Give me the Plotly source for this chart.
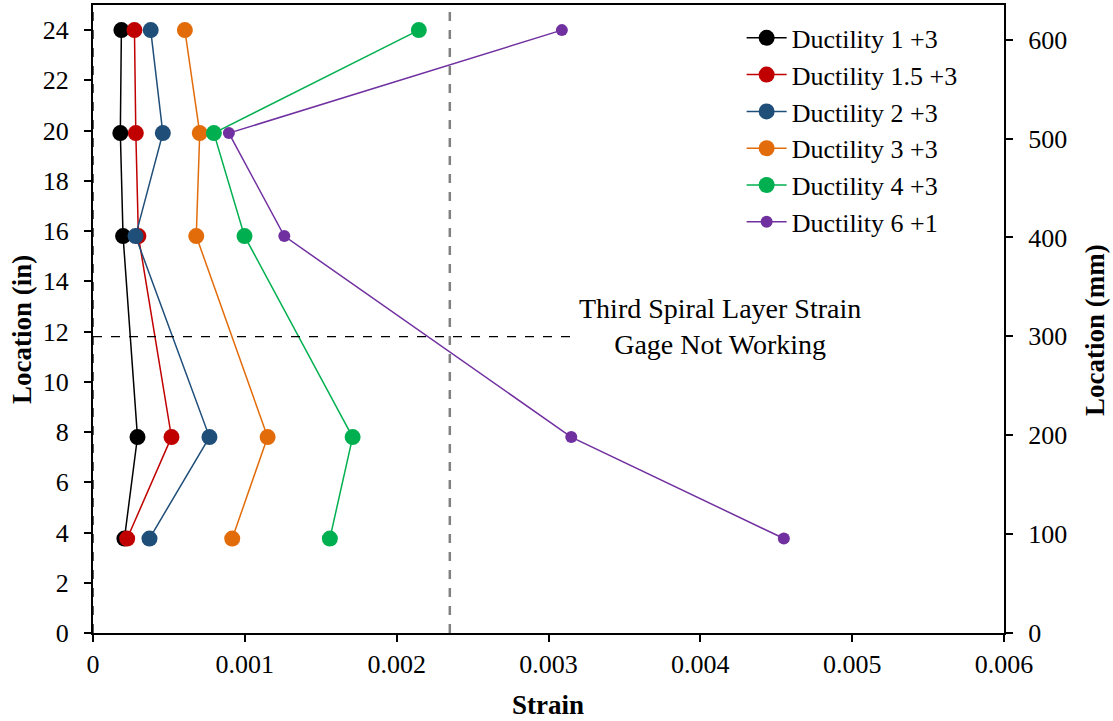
import plotly.graph_objects as go

location_in = [24.0, 19.9, 15.8, 7.8, 3.76]

series_names = ["Ductility 1 +3", "Ductility 1.5 +3", "Ductility 2 +3",
                "Ductility 3 +3", "Ductility 4 +3", "Ductility 6 +1"]
strain_d1 = [0.000187, 0.000180, 0.000198, 0.000293, 0.000207]
strain_d15 = [0.000273, 0.000282, 0.000299, 0.000517, 0.000225]
strain_d2 = [0.000380, 0.000460, 0.000280, 0.000767, 0.000372]
strain_d3 = [0.000605, 0.000703, 0.000680, 0.001150, 0.000917]
strain_d4 = [0.002146, 0.000796, 0.000998, 0.001710, 0.001560]
strain_d6 = [0.003088, 0.000895, 0.001260, 0.003150, 0.004550]
series_values = [strain_d1, strain_d15, strain_d2, strain_d3, strain_d4, strain_d6]
series_colors = ["#000000", "#C00000", "#1F4E79", "#E36C0A", "#00B050", "#7030A0"]
marker_sizes = [16, 16, 16, 16, 16, 12]

yield_strain = 0.00235
gage_line_y = 11.8
gage_line_x_end = 0.00315

x_ticks = [0, 0.001, 0.002, 0.003, 0.004, 0.005, 0.006]
x_tick_text = ["0", "0.001", "0.002", "0.003", "0.004", "0.005", "0.006"]

FONT = "Liberation Serif, Times New Roman, serif"

fig = go.Figure()

for name, vals, col, ms in zip(series_names, series_values, series_colors, marker_sizes):
    fig.add_trace(go.Scatter(
        x=vals, y=location_in, name=name, mode="lines+markers",
        line=dict(color=col, width=1.5),
        marker=dict(color=col, size=ms),
    ))

# invisible trace for right axis
fig.add_trace(go.Scatter(x=[0, 0], y=[0, 635], yaxis="y2", mode="markers",
                         marker=dict(opacity=0), showlegend=False, hoverinfo="skip"))

# dashed lines
fig.add_shape(type="line", x0=yield_strain, x1=yield_strain, y0=0, y1=25,
              xref="x", yref="y", line=dict(color="#808080", width=2.5, dash="dash"))
fig.add_shape(type="line", x0=0, x1=gage_line_x_end, y0=gage_line_y, y1=gage_line_y,
              xref="x", yref="y", line=dict(color="#000000", width=1.3, dash="dash"))
fig.add_shape(type="line", x0=0, x1=0, y0=0, y1=25,
              xref="x", yref="y", line=dict(color="#000000", width=1.3, dash="dash"))

fig.add_annotation(x=0.00413, y=12.2, xref="x", yref="y",
                   text="Third Spiral Layer Strain<br>Gage Not Working",
                   showarrow=False, font=dict(family=FONT, size=28, color="#000000"),
                   align="center", xanchor="center", yanchor="middle")

L, R, T, B = 93, 109, 5, 88
W, H = 1113, 721
pw, ph = W - L - R, H - T - B


def px_to_paper(xp, yp):
    return (xp - L) / pw, (H - B - yp) / ph


titles = [("<b>Location (in)</b>", 22, 330, -90),
          ("<b>Strain</b>", 548, 705, 0),
          ("<b>Location (mm)</b>", 1095, 330, -90)]
for text, xp, yp, ang in titles:
    xx, yy = px_to_paper(xp, yp)
    fig.add_annotation(x=xx, y=yy, xref="paper", yref="paper", text=text,
                       textangle=ang, showarrow=False, xanchor="center", yanchor="middle",
                       font=dict(family=FONT, size=27))

axis_common = dict(showgrid=False, zeroline=False, showline=True, linecolor="black",
                   linewidth=2, ticks="outside", ticklen=7, tickwidth=2, tickcolor="black",
                   automargin=False, tickfont=dict(family=FONT, size=26))

fig.update_layout(
    width=W, height=H,
    paper_bgcolor="white", plot_bgcolor="white",
    margin=dict(l=L, r=R, t=T, b=B),
    font=dict(family=FONT, size=26, color="#000000"),
    xaxis=dict(range=[0, 0.006], tickvals=x_ticks, ticktext=x_tick_text,
               mirror=True, **axis_common),
    yaxis=dict(range=[0, 25], tickvals=list(range(0, 25, 2)), ticklabelstandoff=10,
               **axis_common),
    yaxis2=dict(range=[0, 635], overlaying="y", side="right", ticklabelstandoff=10,
                tickvals=list(range(0, 601, 100)), **axis_common),
    legend=dict(x=0.712, y=0.985, xanchor="left", yanchor="top",
                bgcolor="rgba(255,255,255,0)", font=dict(family=FONT, size=26),
                itemwidth=40, tracegroupgap=0),
    showlegend=True,
)

fig.write_html("out.html", config={"displayModeBar": False},
               post_script="document.body.style.margin='0';document.body.style.overflow='hidden';")
